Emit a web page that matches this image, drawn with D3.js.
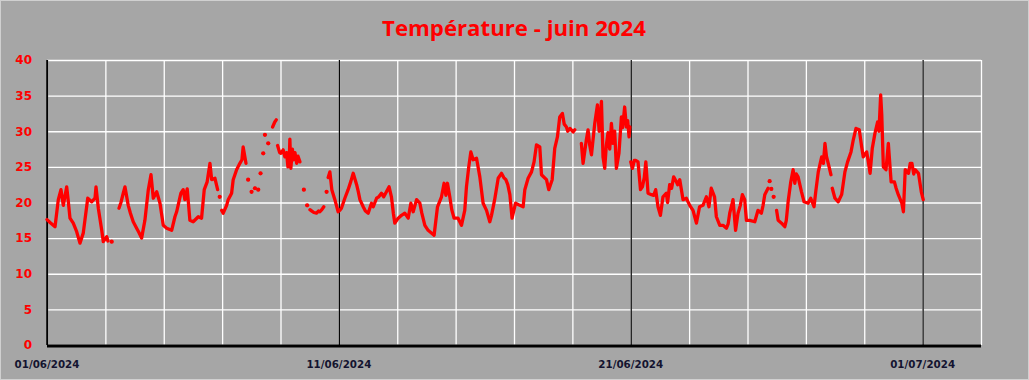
<!DOCTYPE html>
<html><head><meta charset="utf-8">
<script src="https://cdn.jsdelivr.net/npm/d3@7"></script>
<style>
html,body{margin:0;padding:0;background:#a6a6a6;}
svg{display:block;}
</style></head>
<body>
<svg id="chart" width="1029" height="380"></svg>
<script>
// ---- DATA ----
const title = "Température - juin 2024";
const startDate = "2024-06-01";
const endDate = "2024-07-03";
const xTickLabels = ["01/06/2024", "11/06/2024", "21/06/2024", "01/07/2024"];
const xTickDays = [0, 10, 20, 30];
const yTicks = [0, 5, 10, 15, 20, 25, 30, 35, 40];
// hours since 01/06/2024 00:00 ; null temperature = gap in the record
const hours = [
0,2.5,6.6,9.3,11.5,13.4,16.2,17.3,18.9,21.6,24.4,27.1,29.8,32.6,33.5,36.7,39.5,40.3,42.2,45,46.3,49.1,50.1,51.5,53.2,55,
59.2,60.8,62.7,64.1,66.8,68.6,70.9,73.7,75.6,77.8,80.5,83.3,85.5,87.4,90.2,92.9,95.6,98.4,102.5,105.2,106.6,110.1,112,113.4,115.3,117.5,120.2,124.4,127.1,129.3,131.7,134,135.4,138.1,140.3,141,142,142.8,
143.6,144.9,147.7,149,151.8,153.1,155.9,158.6,160.3,161.3,163.6,164.5,
165.4,166.8,168.2,169.6,171,172.3,173.7,174.6,175.6,176.7,177.8,178.5,179.2,180.5,181.9,183.5,
185.5,187.3,188.5,188.8,189.6,191.3,192.3,194.2,195.6,197,198.1,199.3,199.7,200.5,201.8,202.5,203.9,205.3,206.4,208,210,
211.2,212.5,213.9,215,216.2,217.8,219.4,221.6,223.2,224.4,226,227.6,228.7,229.9,230.5,231.2,232.6,234.2,236.7,239.4,240.8,242.1,244.9,247.6,249.9,251.8,254.6,256,257.3,260,261.8,264.1,266.8,268.3,271,272.8,275,276.9,279.1,281.3,283.2,284.8,286,288.8,291.5,294.2,297,299.2,301.1,303.9,306.6,308.2,310.7,313.4,315.6,318.3,321.1,324.4,326.5,328,329.3,331.2,332.8,334.7,338,340.8,343.5,344.9,346.8,348.5,350.4,353.2,355.9,358.6,361.4,364.1,365.5,368.1,371,373.7,375.6,377.3,378.9,380.6,382.4,385.3,388.8,391.5,392.9,395.6,398.4,400.5,402.5,405.2,406.6,410.7,412.6,415.4,417.5,419.7,421.6,423.8,425.3,427.1,428.2,430,432.6,434,436.5,
439.4,440.8,443.5,444.9,446.3,447.7,450.4,452.6,454,455.9,457.2,458.6,459.9,461.3,462.7,464.1,465.4,466.8,468.2,470.3,472.3,473.3,475,476.4,477.5,478.6,479.3,479.6,
480,481.4,482.9,484.1,486,488,489.6,491.1,492.4,494.2,497,498.9,500.5,502.4,504.4,506.5,509.3,510.3,512,513.6,515.3,517.5,518.6,520.3,523,525.7,528.5,531.2,532.6,534,536.6,539.4,542.2,544.3,546.2,548.9,550.4,553.2,555.9,558.7,560.1,561.4,564.1,566.2,568.2,570.1,571.8,573.7,575.1,577.8,582,584.6,587.4,588.8,590.2,592.9,593.5,
594.2,594.9,595.6,596.5,597.5,598.7,
599.9,601.2,604,606.7,607.9,609.4,611.6,613.5,614.9,616.1,617.6,620.4,622.5,625.8,628,630.7,632.1,634.2,637,638.4,639.7,640.9,642.4,644.6,645.2,
645.7,647.9,650.6,653.4,656.1,658.3,661.1,663,665.2,667.9,669.9,671.2,674,675.1,676.8,678.6,680.8,683,684.1,685.5,686.4,687.7,689.9,691.8,694.1,696.8,698.2,700,702.9,704.2,705.7,708.4,709.8,711.2,712.7,713.9,716.6,718.9,720.5
];
const temps = [
17.6,17.2,16.6,20.4,21.8,19.6,22.2,20.5,17.8,17.1,15.9,14.3,15.7,19.4,20.6,20.1,20.6,22.2,19.2,16.1,14.5,15.2,14.6,null,14.5,null,
19.2,20.0,21.3,22.2,19.6,18.5,17.3,16.4,15.8,15.0,17.5,21.8,23.9,20.6,21.5,19.9,16.8,16.4,16.1,18.0,18.7,21.3,21.8,20.4,21.9,17.5,17.3,18.0,17.8,21.8,22.9,25.5,23.2,23.4,21.8,null,20.8,null,
18.9,18.5,19.6,20.4,21.3,23.2,24.6,25.5,26.0,27.8,25.5,null,
23.2,null,21.5,null,22.0,null,21.8,null,24.1,null,26.9,null,29.5,null,28.3,null,
30.6,31.3,31.6,null,28.0,27.0,26.9,27.4,26.4,27.0,25.0,26.5,28.9,24.8,27.5,26.0,27.0,25.5,26.5,25.7,null,
21.8,null,19.6,null,19.0,18.8,18.6,18.5,18.8,18.7,19.0,19.4,null,21.5,null,23.5,24.3,21.8,20.4,18.7,18.9,19.2,20.6,21.8,23.0,24.1,22.5,21.5,20.4,19.4,18.8,18.5,19.9,19.4,20.6,20.8,21.3,20.8,21.5,22.2,20.8,18.5,17.1,17.8,18.2,18.5,17.8,19.9,18.7,20.4,19.9,18.5,16.8,16.1,15.8,15.4,19.4,20.8,22.7,21.0,22.7,20.8,19.0,17.8,17.8,16.8,18.9,22.2,25.0,27.1,26.0,26.2,23.6,19.9,18.9,17.3,18.2,20.4,23.4,24.1,23.5,23.2,22.5,21.1,17.8,19.9,19.6,19.4,21.8,23.4,24.3,25.7,28.1,27.8,23.9,23.2,21.8,23.2,27.6,29.2,32.0,32.5,31.0,30.6,30.0,30.4,29.9,30.2,null,
28.3,25.5,28.8,30.2,28.0,26.7,31.1,33.7,30.0,34.2,26.4,24.8,28.0,29.8,27.5,31.1,28.3,30.0,24.8,26.9,32.0,30.5,33.4,30.6,31.5,29.2,30.6,null,
25.7,24.8,25.9,25.9,25.7,21.8,22.2,23.5,25.7,21.3,21.1,21.0,21.8,19.4,18.2,20.8,21.3,20.0,22.5,22.0,23.6,22.9,22.5,23.2,20.4,20.6,19.6,18.9,18.0,17.1,19.4,19.6,20.8,19.4,22.0,20.8,18.0,16.8,16.8,16.4,17.0,18.5,20.4,16.1,18.5,19.6,21.1,20.4,17.5,17.5,17.3,18.9,18.5,19.6,21.1,22.0,null,
23.0,null,21.9,null,20.8,null,
18.9,17.5,17.1,16.6,17.5,20.1,22.9,24.6,22.7,24.0,23.6,21.5,20.1,19.9,20.6,19.4,21.5,24.3,26.4,25.5,28.3,26.5,25.5,23.9,null,
22.0,20.6,20.1,21.1,24.3,25.7,27.1,28.8,30.4,30.2,27.8,26.4,27.1,26.0,24.1,27.6,29.7,31.3,30.0,35.1,32.3,25.0,24.6,28.3,22.9,22.9,22.0,21.1,19.9,18.7,24.6,24.1,25.5,25.5,24.0,24.6,24.1,21.5,20.4
];

// ---- CHART ----
const W = 1029, H = 380;
const M = {left: 47, right: 48, top: 60, bottom: 35};
const svg = d3.select("#chart");
const parse = d3.utcParse("%Y-%m-%d");
const t0 = parse(startDate), t1 = parse(endDate);
const x = d3.scaleUtc().domain([t0, t1]).range([M.left, W - M.right]);
const y = d3.scaleLinear().domain([0, 40]).range([H - M.bottom, M.top]);

const n = Math.min(hours.length, temps.length);
const data = d3.range(n).map(i => ({t: new Date(t0.getTime() + hours[i] * 3600e3), v: temps[i]}));

// background + border
svg.append("rect").attr("x", 0.5).attr("y", 0.5).attr("width", W - 1).attr("height", H - 1)
  .attr("fill", "#a6a6a6").attr("stroke", "#d0d0d0").attr("stroke-width", 1);

// horizontal grid
svg.append("g").attr("transform", `translate(${M.left},0)`)
  .call(d3.axisLeft(y).tickValues(yTicks).tickSize(-(W - M.left - M.right)).tickFormat(""))
  .call(g => g.select(".domain").remove())
  .call(g => g.selectAll("line").attr("stroke", "#ffffff").attr("stroke-width", 1.3));

// vertical grid every 2 days
const dayTicks = d3.range(0, 33, 2).map(d => d3.utcDay.offset(t0, d));
svg.append("g").attr("transform", `translate(0,${M.top})`)
  .call(d3.axisBottom(x).tickValues(dayTicks).tickSize(H - M.bottom - M.top).tickFormat(""))
  .call(g => g.select(".domain").remove())
  .call(g => g.selectAll("line").attr("stroke", "#ffffff").attr("stroke-width", 1.3));

// black major lines
svg.append("g").attr("transform", `translate(0,${M.top})`)
  .call(d3.axisBottom(x).tickValues(xTickDays.map(d => d3.utcDay.offset(t0, d))).tickSize(H - M.bottom - M.top).tickFormat(""))
  .call(g => g.select(".domain").remove())
  .call(g => g.selectAll("line").attr("stroke", "#000000").attr("stroke-width", 1.2));

// left axis line
svg.append("line").attr("x1", M.left).attr("x2", M.left).attr("y1", M.top).attr("y2", H - M.bottom)
  .attr("stroke", "#000").attr("stroke-width", 1.5);

// y labels
svg.append("g").selectAll("text").data(yTicks).join("text")
  .attr("x", 32).attr("y", d => y(d)).attr("dy", "0.36em")
  .attr("text-anchor", "end").attr("fill", "#ff0000")
  .attr("font-family", "DejaVu Sans, Verdana, sans-serif").attr("font-weight", "bold").attr("font-size", 12)
  .text(d => d);

// x labels
svg.append("g").selectAll("text").data(xTickDays).join("text")
  .attr("x", d => x(d3.utcDay.offset(t0, d))).attr("y", 368)
  .attr("text-anchor", "middle").attr("fill", "#141430")
  .attr("font-family", "DejaVu Sans, Verdana, sans-serif").attr("font-weight", "bold").attr("font-size", 10.3)
  .text((d, i) => xTickLabels[i]);

// data line
const line = d3.line().defined(d => d.v !== null).x(d => x(d.t)).y(d => y(d.v)).curve(d3.curveLinear);
svg.append("path").datum(data).attr("d", line)
  .attr("fill", "none").attr("stroke", "#ff0000").attr("stroke-width", 3.3)
  .attr("stroke-linejoin", "round").attr("stroke-linecap", "round");

// isolated points (no neighbour) drawn as dots
const isolated = data.filter((d, i) => d.v !== null &&
  (i === 0 || data[i - 1].v === null) && (i === data.length - 1 || data[i + 1].v === null));
svg.append("g").selectAll("circle").data(isolated).join("circle")
  .attr("cx", d => x(d.t)).attr("cy", d => y(d.v)).attr("r", 2.1).attr("fill", "#ff0000");

// bottom axis thick line
svg.append("line").attr("x1", M.left).attr("x2", W - M.right).attr("y1", y(0) + 1).attr("y2", y(0) + 1)
  .attr("stroke", "#000").attr("stroke-width", 3);

// title
const tt = svg.append("text").attr("x", 514).attr("y", 36).attr("text-anchor", "middle")
  .attr("fill", "#ff0000").attr("font-family", "Open Sans, sans-serif").attr("font-weight", "bold")
  .attr("font-size", 24).text(title);
const len = tt.node().getComputedTextLength();
tt.attr("font-size", 24 * 264 / len);
</script>
</body></html>
